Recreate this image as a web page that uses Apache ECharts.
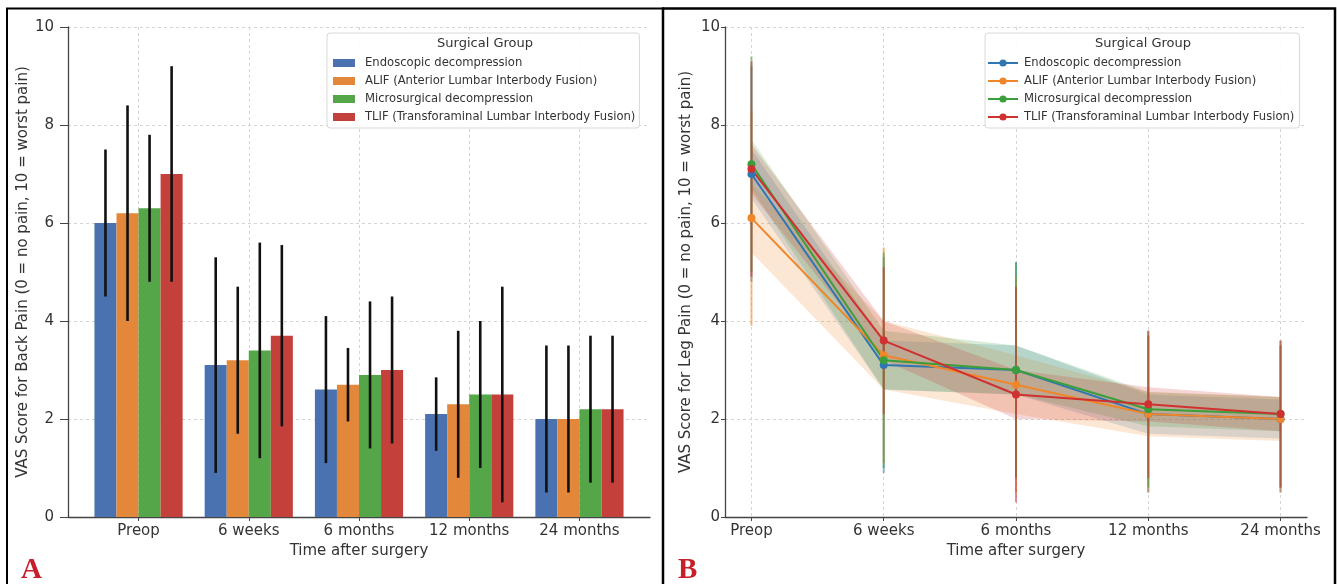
<!DOCTYPE html>
<html><head><meta charset="utf-8">
<script src="https://cdn.jsdelivr.net/npm/echarts@6/dist/echarts.min.js"></script>
<style>html,body{margin:0;padding:0;background:#fff}#c{width:1337px;height:584px}</style>
</head><body><div id="c"></div>
<script>
const categories = ['Preop', '6 weeks', '6 months', '12 months', '24 months'];
const groups = ['Endoscopic decompression', 'ALIF (Anterior Lumbar Interbody Fusion)', 'Microsurgical decompression', 'TLIF (Transforaminal Lumbar Interbody Fusion)'];
const yTicks = [0, 2, 4, 6, 8, 10];

// Panel A: back pain (mean, SD)
const backEndoscopic = [6.0, 3.1, 2.6, 2.1, 2.0];
const backALIF       = [6.2, 3.2, 2.7, 2.3, 2.0];
const backMicro      = [6.3, 3.4, 2.9, 2.5, 2.2];
const backTLIF       = [7.0, 3.7, 3.0, 2.5, 2.2];
const backEndoscopicSD = [1.5, 2.2, 1.5, 0.75, 1.5];
const backALIFSD       = [2.2, 1.5, 0.75, 1.5, 1.5];
const backMicroSD      = [1.5, 2.2, 1.5, 1.5, 1.5];
const backTLIFSD       = [2.2, 1.85, 1.5, 2.2, 1.5];

// Panel B: leg pain (mean, SD, band half-width)
const legEndoscopic = [7.0, 3.1, 3.0, 2.1, 2.0];
const legALIF       = [6.1, 3.3, 2.7, 2.1, 2.0];
const legMicro      = [7.2, 3.2, 3.0, 2.2, 2.1];
const legTLIF       = [7.1, 3.6, 2.5, 2.3, 2.1];
const legEndoscopicSD = [2.2, 2.2, 2.2, 1.6, 1.5];
const legALIFSD       = [2.2, 2.2, 2.2, 1.6, 1.5];
const legMicroSD      = [2.2, 2.2, 2.2, 1.6, 1.5];
const legTLIFSD       = [2.2, 1.5, 2.2, 1.5, 1.5];
const legEndoscopicBand = [0.5, 0.5, 0.5, 0.4, 0.4];
const legALIFBand       = [0.7, 0.7, 0.6, 0.45, 0.45];
const legMicroBand      = [0.5, 0.6, 0.5, 0.35, 0.35];
const legTLIFBand       = [0.5, 0.4, 0.5, 0.35, 0.35];

const backMeans = [backEndoscopic, backALIF, backMicro, backTLIF];
const backSDs = [backEndoscopicSD, backALIFSD, backMicroSD, backTLIFSD];
const legMeans = [legEndoscopic, legALIF, legMicro, legTLIF];
const legSDs = [legEndoscopicSD, legALIFSD, legMicroSD, legTLIFSD];
const legBands = [legEndoscopicBand, legALIFBand, legMicroBand, legTLIFBand];

const barColors = ['#4a72b0', '#e3873a', '#55a648', '#c3403b'];
const lineColors = ['#2f77b4', '#f0862a', '#3a9e3a', '#cf3030'];
const FONT = 'DejaVu Sans';
const TXT = '#333';
const tickIdx = categories.map((c, i) => i);
const barOffsets = [-0.3, -0.1, 0.1, 0.3];
const barW = 0.2;

function xAxisCfg(grid, min, max) {
  return {
    gridIndex: grid, type: 'value', min: min, max: max,
    axisLine: { onZero: false, lineStyle: { color: '#444', width: 1.3 } },
    axisTick: { customValues: tickIdx, length: 4, lineStyle: { color: '#444' } },
    axisLabel: { customValues: tickIdx, formatter: v => categories[Math.round(v)], fontSize: 15, color: TXT, fontFamily: FONT, margin: 7 },
    splitLine: { show: true, lineStyle: { type: [3, 3], color: '#d4d4d4', width: 1 } },
    name: 'Time after surgery', nameLocation: 'middle', nameGap: 25,
    nameTextStyle: { fontSize: 15, color: TXT, fontFamily: FONT }
  };
}
function yAxisCfg(grid, name, tickLen, margin) {
  return {
    gridIndex: grid, type: 'value', min: yTicks[0], max: yTicks[yTicks.length - 1], interval: 2,
    axisLine: { show: true, onZero: false, lineStyle: { color: '#444', width: 1.3 } },
    axisTick: { show: true, length: tickLen, lineStyle: { color: '#444' } },
    axisLabel: { fontSize: 15, color: TXT, fontFamily: FONT, margin: margin },
    splitLine: { show: true, lineStyle: { type: [3, 3], color: '#d4d4d4', width: 1 } },
    name: name, nameLocation: 'middle', nameGap: 31,
    nameTextStyle: { fontSize: 15, color: TXT, fontFamily: FONT }
  };
}

const series = [];
// Panel A bars
groups.forEach((g, k) => {
  series.push({
    type: 'custom', name: g, xAxisIndex: 0, yAxisIndex: 0,
    itemStyle: { color: barColors[k] },
    encode: { x: 0, y: 1 },
    data: categories.map((c, i) => [i, backMeans[k][i]]),
    renderItem: function (params, api) {
      const x = api.value(0) + barOffsets[k];
      const p0 = api.coord([x - barW / 2, api.value(1)]);
      const p1 = api.coord([x + barW / 2, 0]);
      return { type: 'rect', shape: { x: p0[0], y: p0[1], width: p1[0] - p0[0], height: p1[1] - p0[1] },
        style: { fill: barColors[k] } };
    }
  });
});
// Panel A error bars
groups.forEach((g, k) => {
  series.push({
    type: 'custom', name: 'errA' + k, xAxisIndex: 0, yAxisIndex: 0, z: 3,
    encode: { x: 0, y: 1 },
    data: categories.map((c, i) => [i, backMeans[k][i] - backSDs[k][i], backMeans[k][i] + backSDs[k][i]]),
    renderItem: function (params, api) {
      const x = api.value(0) + barOffsets[k];
      const a = api.coord([x, api.value(1)]);
      const b = api.coord([x, api.value(2)]);
      return { type: 'line', shape: { x1: a[0], y1: a[1], x2: b[0], y2: b[1] },
        style: { stroke: '#111', lineWidth: 2.6 } };
    }
  });
});
// Panel B: band, error bars, line per group
groups.forEach((g, k) => {
  const bandData = categories.map((c, i) => [i, legMeans[k][i] - legBands[k][i], legMeans[k][i] + legBands[k][i]]);
  series.push({
    type: 'custom', name: 'bandB' + k, xAxisIndex: 1, yAxisIndex: 1,
    encode: { x: 0, y: 1 },
    data: bandData,
    renderItem: function (params, api) {
      if (params.dataIndex !== 0) return null;
      const up = bandData.map(d => api.coord([d[0], d[2]]));
      const lo = bandData.map(d => api.coord([d[0], d[1]])).reverse();
      return { type: 'polygon', shape: { points: up.concat(lo) },
        style: { fill: lineColors[k], opacity: 0.2 } };
    }
  });
  series.push({
    type: 'custom', name: 'errB' + k, xAxisIndex: 1, yAxisIndex: 1,
    encode: { x: 0, y: 1 },
    data: categories.map((c, i) => [i, legMeans[k][i] - legSDs[k][i], legMeans[k][i] + legSDs[k][i]]),
    renderItem: function (params, api) {
      const a = api.coord([api.value(0), api.value(1)]);
      const b = api.coord([api.value(0), api.value(2)]);
      return { type: 'line', shape: { x1: a[0], y1: a[1], x2: b[0], y2: b[1] },
        style: { stroke: lineColors[k], lineWidth: 2, opacity: 0.55 } };
    }
  });
  series.push({
    type: 'line', name: 'R:' + g, xAxisIndex: 1, yAxisIndex: 1,
    data: categories.map((c, i) => [i, legMeans[k][i]]),
    symbol: 'circle', symbolSize: 8, showSymbol: true,
    lineStyle: { color: lineColors[k], width: 2 },
    itemStyle: { color: lineColors[k], borderWidth: 0 },
    emphasis: { disabled: true }, animation: false
  });
});

const legendCommon = {
  orient: 'vertical', top: 33, itemGap: 4, selectedMode: false,
  backgroundColor: 'rgba(255,255,255,0.9)', borderColor: '#d8d8d8', borderWidth: 1, borderRadius: 3,
  textStyle: { fontSize: 11.6, color: TXT, fontFamily: FONT, lineHeight: 14 }
};

const option = {
  animation: false,
  backgroundColor: '#fff',
  grid: [
    { left: 68, top: 27, width: 582, height: 490 },
    { left: 725, top: 27, width: 582, height: 490 }
  ],
  xAxis: [xAxisCfg(0, -0.64, 4.64), xAxisCfg(1, -0.2, 4.2)],
  yAxis: [
    yAxisCfg(0, 'VAS Score for Back Pain (0 = no pain, 10 = worst pain)', 8, 14),
    yAxisCfg(1, 'VAS Score for Leg Pain (0 = no pain, 10 = worst pain)', 4, 5)
  ],
  legend: [
    Object.assign({}, legendCommon, {
      left: 327, padding: [23, 4, 4, 6], data: groups, icon: 'rect', itemWidth: 22, itemHeight: 8,
      textStyle: Object.assign({}, legendCommon.textStyle, { padding: [0, 0, 0, 5] })
    }),
    Object.assign({}, legendCommon, {
      left: 985, padding: [23, 5, 4, 2], data: groups.map(g => 'R:' + g), itemWidth: 30, itemHeight: 9,
      formatter: n => n.replace(/^R:/, ''),
      textStyle: Object.assign({}, legendCommon.textStyle, { padding: [0, 0, 0, 1] })
    })
  ],
  graphic: [
    { type: 'rect', z: 100, shape: { x: 7, y: 8.5, width: 656, height: 600 }, style: { fill: 'none', stroke: '#000', lineWidth: 2 } },
    { type: 'rect', z: 100, shape: { x: 663, y: 8.5, width: 672, height: 600 }, style: { fill: 'none', stroke: '#000', lineWidth: 2.5 } },
    { type: 'text', z: 100, x: 485, y: 44, style: { text: 'Surgical Group', fontSize: 13, fill: TXT, fontFamily: FONT, align: 'center', verticalAlign: 'middle' } },
    { type: 'text', z: 100, x: 1143, y: 44, style: { text: 'Surgical Group', fontSize: 13, fill: TXT, fontFamily: FONT, align: 'center', verticalAlign: 'middle' } },
    { type: 'text', z: 100, x: 21, y: 571, style: { text: 'A', fontSize: 29, fontWeight: 'bold', fill: '#c8202a', fontFamily: 'Liberation Serif', align: 'left', verticalAlign: 'middle' } },
    { type: 'text', z: 100, x: 678, y: 571, style: { text: 'B', fontSize: 29, fontWeight: 'bold', fill: '#c8202a', fontFamily: 'Liberation Serif', align: 'left', verticalAlign: 'middle' } }
  ],
  series: series
};
const chart = echarts.init(document.getElementById('c'), null, { renderer: 'canvas' });
chart.setOption(option);
</script>
</body></html>
